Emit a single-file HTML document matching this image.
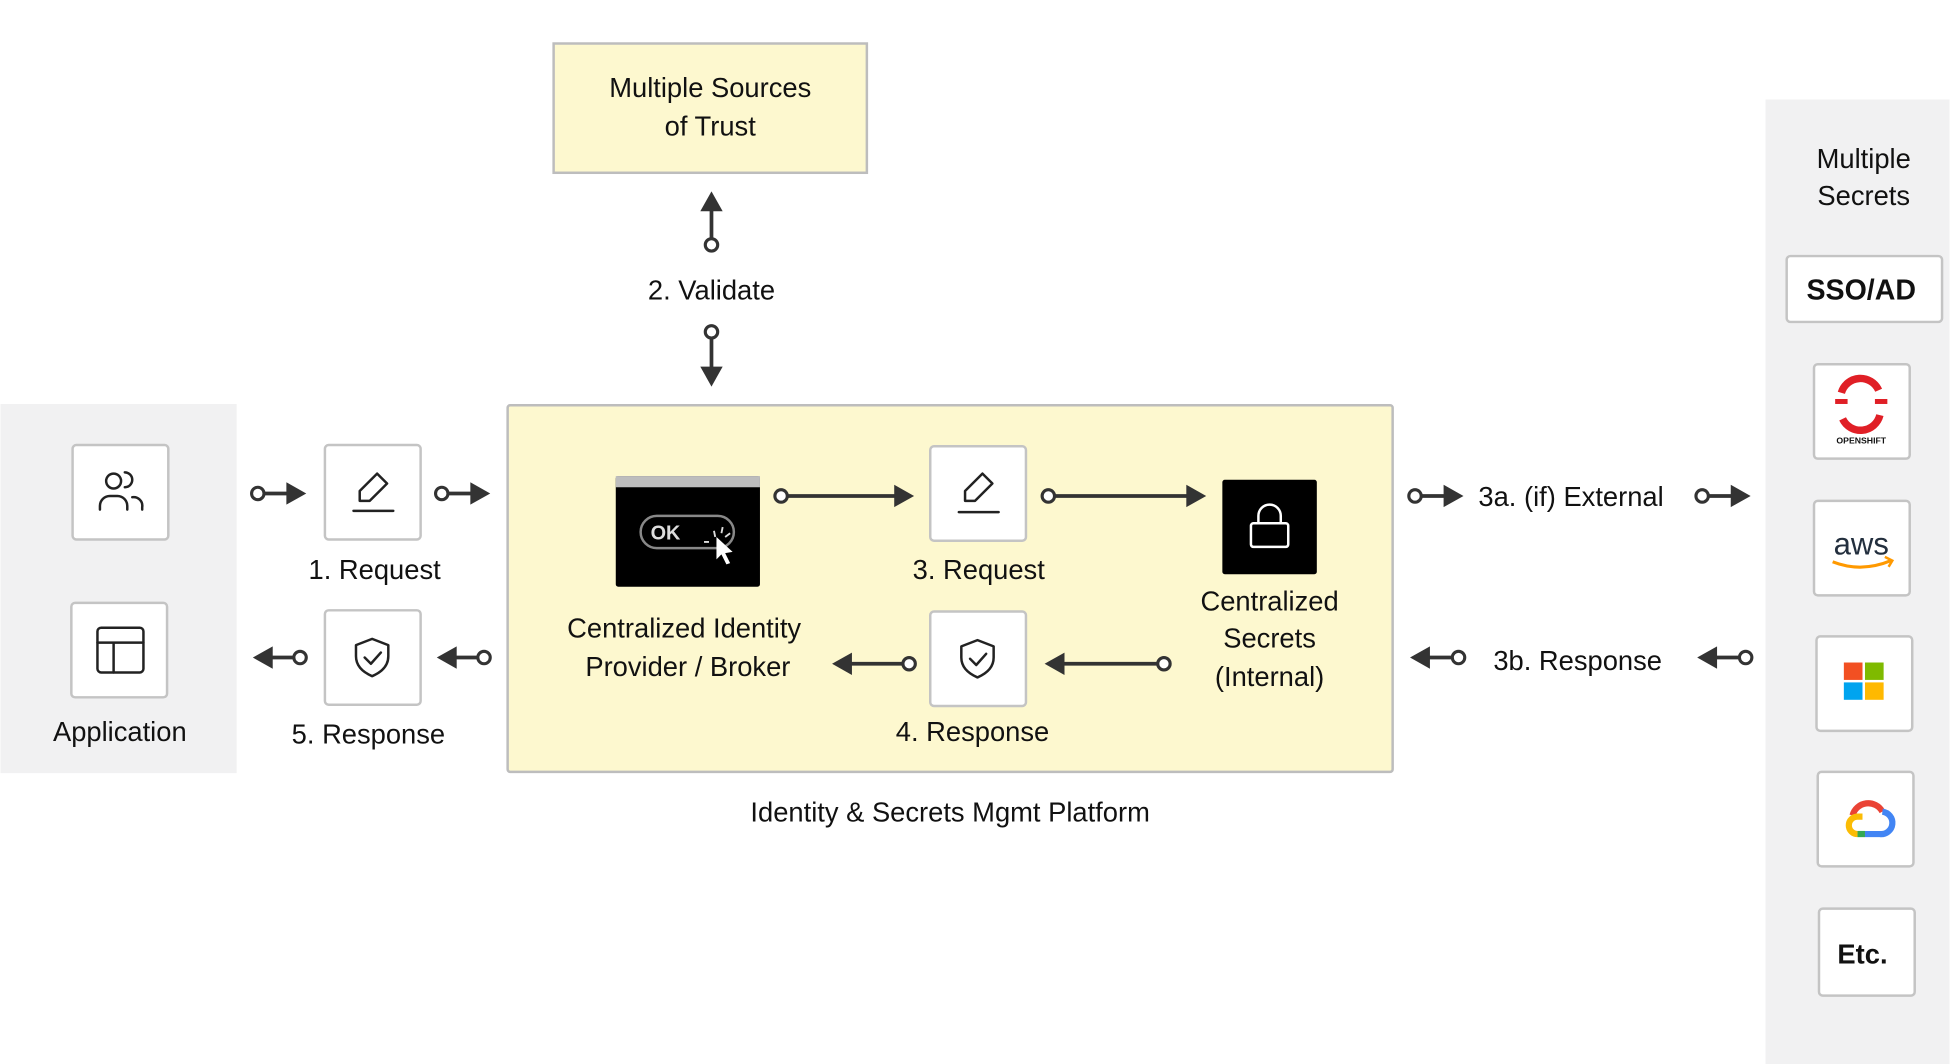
<!DOCTYPE html>
<html><head><meta charset="utf-8"><style>
html,body{margin:0;padding:0;background:#fff;width:1950px;height:1064px;overflow:hidden}
text{font-family:"Liberation Sans",sans-serif;fill:#111}
</style></head><body>
<svg width="1950" height="1064" viewBox="0 0 1568 856" xmlns="http://www.w3.org/2000/svg">
<defs>
<g id="rc"><circle r="5" fill="#fff" stroke="#333" stroke-width="2.5"/></g>
</defs>
<!-- panels -->
<rect x="0" y="325" width="190" height="297" fill="#f1f1f2"/>
<rect x="1420" y="80" width="148" height="776" fill="#f1f1f2"/>
<rect x="445" y="35" width="252" height="104" fill="#fdf8cf" stroke="#bdbdbd" stroke-width="2"/>
<rect x="408" y="326" width="712" height="295" fill="#fdf8cf" stroke="#bdbdbd" stroke-width="2" rx="2"/>
<g text-anchor="middle" font-size="22">
<text x="571" y="78">Multiple Sources</text><text x="571" y="109">of Trust</text>
<text x="572" y="241">2. Validate</text>
<text x="301" y="466">1. Request</text>
<text x="296" y="598">5. Response</text>
<text x="96" y="596">Application</text>
<text x="787" y="466">3. Request</text>
<text x="782" y="596">4. Response</text>
<text x="550" y="513">Centralized Identity</text>
<text x="553" y="544">Provider / Broker</text>
<text x="1021" y="491">Centralized</text>
<text x="1021" y="521">Secrets</text>
<text x="1021" y="552">(Internal)</text>
<text x="764" y="661">Identity &amp; Secrets Mgmt Platform</text>
<text x="1499" y="135">Multiple</text>
<text x="1499" y="165">Secrets</text>
</g>
<text x="1189" y="407" font-size="22">3a. (if) External</text>
<text x="1201" y="539" font-size="22">3b. Response</text>
<!-- white icon boxes -->
<g fill="#fff" stroke="#c4c4c4" stroke-width="2">
<rect x="58" y="358" width="77" height="76" rx="3"/>
<rect x="57" y="485" width="77" height="76" rx="3"/>
<rect x="261" y="358" width="77" height="76" rx="3"/>
<rect x="261" y="491" width="77" height="76" rx="3"/>
<rect x="748" y="359" width="77" height="76" rx="3"/>
<rect x="748" y="492" width="77" height="76" rx="3"/>
<rect x="1437" y="206" width="125" height="53" rx="3"/>
<rect x="1459" y="293" width="77" height="76" rx="3"/>
<rect x="1459" y="403" width="77" height="76" rx="3"/>
<rect x="1461" y="512" width="77" height="76" rx="3"/>
<rect x="1462" y="621" width="77" height="76" rx="3"/>
<rect x="1463" y="731" width="77" height="70" rx="3"/>
</g>
<text x="1497" y="241" font-size="23" text-anchor="middle" font-weight="bold" style="font-weight:600">SSO/AD</text>
<text x="1498" y="775" font-size="22" text-anchor="middle" font-weight="bold">Etc.</text>
<!-- icons -->
<g fill="none" stroke="#222" stroke-width="2" stroke-linecap="round" stroke-linejoin="round">
<circle cx="91" cy="387" r="6"/><path d="M80 410v-3a8 8 0 0 1 8-8h6a8 8 0 0 1 8 8v3"/><path d="M100 380a6 6 0 0 1 0 12M106 400a7 7 0 0 1 8 8v2"/>
<rect x="78" y="505" width="37" height="36" rx="3"/><path d="M78 517h37M91 517v24"/>
<path d="M303 381l8 8-14 14h-8v-8z"/><path d="M284 411h32"/>
<path d="M790 381l8 8-14 14h-8v-8z"/><path d="M771 412h32"/>
<path d="M299 514l13 5v9c0 8-6 13-13 16-7-3-13-8-13-16v-9z"/><path d="M293 529l5 5 8-9"/>
<path d="M786 515l13 5v9c0 8-6 13-13 16-7-3-13-8-13-16v-9z"/><path d="M780 530l5 5 8-9"/>
</g>
<!-- black boxes -->
<rect x="495" y="383" width="116" height="89" rx="2" fill="#000"/>
<rect x="495" y="383" width="116" height="9" fill="#bdbdbd"/>
<rect x="515" y="415" width="75" height="26" rx="13" fill="none" stroke="#888" stroke-width="2"/>
<text x="523" y="434" font-size="16" font-weight="bold" style="fill:#ddd">OK</text>
<path d="M574 427l1 5M581 424l-1 5M587 429l-4 3M566 436h4" stroke="#ddd" stroke-width="1.5"/>
<path d="M576 432l0 18 4-4 4 8 3-1-4-8 6-1z" fill="#fff"/>
<rect x="983" y="386" width="76" height="76" rx="2" fill="#000"/>
<rect x="1006" y="421" width="30" height="19" rx="2" fill="none" stroke="#fff" stroke-width="2"/>
<path d="M1012 421v-6a9 9 0 0 1 18 0v6" fill="none" stroke="#fff" stroke-width="2"/>
<!-- logos -->
<path d="M1481 316a16 16 0 0 1 30 -2M1512 334a16 16 0 0 1 -30 3" fill="none" stroke="#e01f26" stroke-width="6"/>
<rect x="1476" y="321" width="10" height="4" fill="#e01f26"/><rect x="1508" y="321" width="10" height="4" fill="#e01f26"/>
<text x="1497" y="357" font-size="7" text-anchor="middle" font-weight="bold">OPENSHIFT</text>
<text x="1497" y="446" font-size="25" text-anchor="middle" style="fill:#232f3e">aws</text>
<path d="M1474 452q23 9 47 -1" fill="none" stroke="#f90" stroke-width="2.5"/>
<path d="M1516 448l6 3-3 5" fill="none" stroke="#f90" stroke-width="2"/>
<rect x="1483" y="533" width="15" height="14" fill="#f25022"/><rect x="1500" y="533" width="15" height="14" fill="#7fba00"/>
<rect x="1483" y="549" width="15" height="14" fill="#00a4ef"/><rect x="1500" y="549" width="15" height="14" fill="#ffb900"/>
<path d="M1490 656a13 13 0 0 1 24 -3" fill="none" stroke="#ea4335" stroke-width="5"/>
<path d="M1514 653a9 9 0 0 1 -2 18h-12" fill="none" stroke="#4285f4" stroke-width="5"/>
<path d="M1500 671h-6" fill="none" stroke="#34a853" stroke-width="5"/>
<path d="M1494 671a7 7 0 0 1 0 -14h4" fill="none" stroke="#fbbc05" stroke-width="5"/>
<!-- connectors -->
<g stroke="#333" stroke-width="3" fill="#333">
<line x1="572" y1="192" x2="572" y2="168"/><path d="M563 170l9-16 9 16z" stroke="none"/>
<line x1="572" y1="272" x2="572" y2="296"/><path d="M563 295l9 16 9-16z" stroke="none"/>
<line x1="212" y1="397" x2="232" y2="397"/><path d="M230 388l16 9-16 9z" stroke="none"/>
<line x1="360" y1="397" x2="380" y2="397"/><path d="M378 388l16 9-16 9z" stroke="none"/>
<line x1="236" y1="529" x2="217" y2="529"/><path d="M219 520l-16 9 16 9z" stroke="none"/>
<line x1="384" y1="529" x2="365" y2="529"/><path d="M367 520l-16 9 16 9z" stroke="none"/>
<line x1="633" y1="399" x2="721" y2="399"/><path d="M719 390l16 9-16 9z" stroke="none"/>
<line x1="848" y1="399" x2="956" y2="399"/><path d="M954 390l16 9-16 9z" stroke="none"/>
<line x1="726" y1="534" x2="683" y2="534"/><path d="M685 525l-16 9 16 9z" stroke="none"/>
<line x1="931" y1="534" x2="854" y2="534"/><path d="M856 525l-16 9 16 9z" stroke="none"/>
<line x1="1143" y1="399" x2="1163" y2="399"/><path d="M1161 390l16 9-16 9z" stroke="none"/>
<line x1="1374" y1="399" x2="1394" y2="399"/><path d="M1392 390l16 9-16 9z" stroke="none"/>
<line x1="1168" y1="529" x2="1148" y2="529"/><path d="M1150 520l-16 9 16 9z" stroke="none"/>
<line x1="1399" y1="529" x2="1379" y2="529"/><path d="M1381 520l-16 9 16 9z" stroke="none"/>
</g>
<g>
<use href="#rc" x="572" y="197"/><use href="#rc" x="572" y="267"/>
<use href="#rc" x="207" y="397"/><use href="#rc" x="355" y="397"/>
<use href="#rc" x="241" y="529"/><use href="#rc" x="389" y="529"/>
<use href="#rc" x="628" y="399"/><use href="#rc" x="843" y="399"/>
<use href="#rc" x="731" y="534"/><use href="#rc" x="936" y="534"/>
<use href="#rc" x="1138" y="399"/><use href="#rc" x="1369" y="399"/>
<use href="#rc" x="1173" y="529"/><use href="#rc" x="1404" y="529"/>
</g>
</svg>
</body></html>
